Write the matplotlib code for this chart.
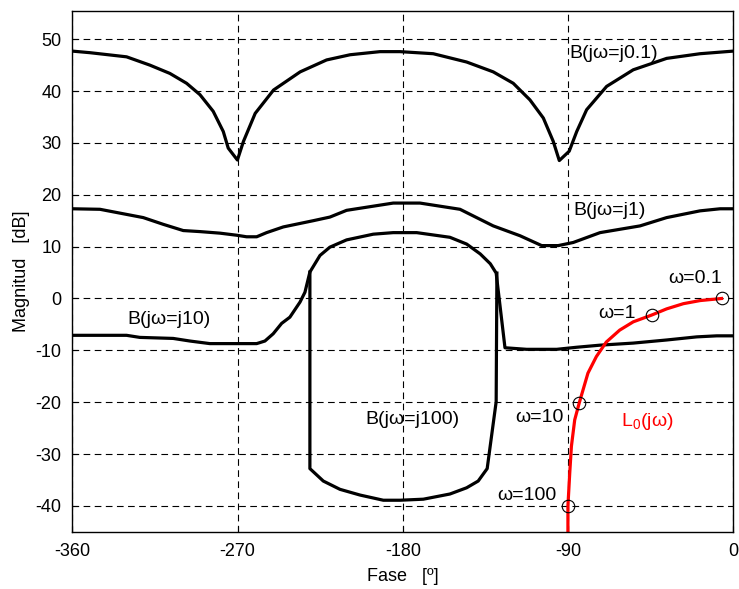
import matplotlib.pyplot as plt

plt.rcParams['font.family'] = ['Liberation Sans', 'DejaVu Sans']
plt.rcParams['mathtext.fontset'] = 'custom'
plt.rcParams['mathtext.rm'] = 'Liberation Sans'
plt.rcParams['axes.unicode_minus'] = False

# Bound at w = 0.1 rad/s (phase in deg, magnitude in dB)
b01_phase = [-360, -350.5, -330.5, -317.8, -306.9, -297.8, -290.5, -283.3, -277.8, -275.1,
             -270.1, -266.8, -260.4, -250.4, -235.9, -221.5, -208.7, -192.4, -181.5,
             -163.4, -145.2, -130.7, -119.8, -110.7, -103.4, -98.0, -94.7, -89.3, -85.2,
             -79.8, -68.9, -54.4, -36.2, -18.0, 0]
b01_mag = [47.7, 47.4, 46.6, 45.0, 43.4, 41.5, 39.3, 36.1, 32.2, 29.0,
           26.7, 30.3, 35.7, 40.2, 43.7, 46.0, 47.0, 47.6, 47.6,
           47.2, 45.6, 43.7, 41.5, 38.3, 34.8, 30.3, 26.6, 28.4, 32.2,
           36.4, 40.9, 44.1, 46.3, 47.2, 47.7]

# Bound at w = 1
b1_phase = [-360, -345, -321.4, -310.5, -299.6, -290.5, -279.6, -270.5, -265.1, -259.6,
            -254.2, -245.1, -228.8, -219.7, -210.6, -196.1, -185.2, -170.6, -148.8,
            -130.7, -116.1, -104.3, -95.3, -87.1, -72.5, -50.7, -36.2, -18.0, -7.1, 0]
b1_mag = [17.3, 17.2, 15.6, 14.3, 13.1, 12.9, 12.6, 12.2, 11.9, 11.9,
          12.7, 13.8, 15.0, 15.7, 17.0, 17.8, 18.4, 18.4, 17.2,
          14.0, 12.1, 10.2, 10.2, 10.8, 12.7, 14.0, 15.6, 16.9, 17.3, 17.3]

# Bound at w = 10
b10_phase = [-360, -330.5, -323.3, -305.1, -296.0, -285.1, -270.5, -259.6, -255.1, -250.6,
             -246.0, -241.5, -236.0, -233.3, -230.6, -225.1, -219.7, -210.6, -196.1,
             -185.2, -172.4, -154.3, -145.2, -137.8, -132.3, -129.1, -124.3, -112.5,
             -96.1, -85.2, -72.5, -54.4, -36.2, -19.8, -8.9, 0]
b10_mag = [-7.1, -7.1, -7.5, -7.7, -8.2, -8.7, -8.7, -8.7, -8.2, -6.8,
           -4.8, -3.6, -0.7, 1.2, 5.1, 8.3, 9.9, 11.3, 12.4,
           12.7, 12.7, 11.8, 10.5, 8.6, 6.7, 4.9, -9.5, -9.8,
           -9.8, -9.4, -9.0, -8.6, -8.0, -7.4, -7.2, -7.2]

# Bound at w = 100 (lower part of the closed contour)
b100_phase = [-230.6, -230.6, -223.3, -214.2, -203.3, -190.6, -181.5, -168.8, -154.3,
              -145.2, -138.9, -134.0, -129.1, -128.7]
b100_mag = [5.1, -32.8, -35.2, -36.8, -37.9, -38.9, -38.9, -38.7, -37.7,
            -36.5, -35.2, -32.8, -19.9, 4.9]

# Nominal open loop L0(jw)
l0_phase = [-6.3, -18.0, -27.1, -36.2, -44.4, -54.4, -61.8, -69.1, -74.5, -79.1,
            -83.8, -86.3, -88.1, -89.0, -90.0, -90.0]
l0_mag = [0.0, -0.4, -1.0, -2.0, -3.2, -4.5, -6.1, -8.4, -11.2, -14.4,
          -20.1, -23.4, -28.5, -33.6, -40.0, -46.0]

# Marked frequencies on L0
w_labels = ['\u03c9=0.1', '\u03c9=1', '\u03c9=10', '\u03c9=100']
w_phase = [-6.3, -44.4, -83.8, -90.0]
w_mag = [0.0, -3.2, -20.1, -40.0]

fig = plt.figure(figsize=(7.39, 5.89), dpi=100)
ax = fig.add_axes([0.098, 0.097, 0.894, 0.884])

lw = 2.3
ax.plot(b01_phase, b01_mag, color='black', lw=lw)
ax.plot(b1_phase, b1_mag, color='black', lw=lw)
ax.plot(b10_phase, b10_mag, color='black', lw=lw)
ax.plot(b100_phase, b100_mag, color='black', lw=lw)
ax.plot(l0_phase, l0_mag, color='red', lw=2.3)
ax.plot(w_phase, w_mag, 'o', mfc='none', mec='black', ms=9, mew=0.8)

fs = 14
ax.text(-89, 47.2, 'B(j\u03c9=j0.1)', fontsize=fs, va='center')
ax.text(-87, 16.9, 'B(j\u03c9=j1)', fontsize=fs, va='center')
ax.text(-330, -4.1, 'B(j\u03c9=j10)', fontsize=fs, va='center')
ax.text(-200.5, -23.3, 'B(j\u03c9=j100)', fontsize=fs, va='center')
ax.text(-35.5, 3.8, w_labels[0], fontsize=fs, va='center')
ax.text(-53, -2.8, w_labels[1], fontsize=fs, va='center', ha='right')
ax.text(-92.5, -23.0, w_labels[2], fontsize=fs, va='center', ha='right')
ax.text(-96, -37.9, w_labels[3], fontsize=fs, va='center', ha='right')
ax.text(-61, -23.7, 'L$_0$(j\u03c9)', fontsize=fs, va='center', color='red')

ax.set_xlim(-360, 0)
ax.set_ylim(-45, 55.4)
ax.set_xticks([-360, -270, -180, -90, 0])
ax.set_yticks(range(-40, 51, 10))
ax.tick_params(direction='in', length=4, labelsize=13, width=0.8, pad=8)
ax.grid(True, color='black', linestyle=(0, (6, 4)), lw=0.8)
ax.set_axisbelow(True)
for sp in ax.spines.values():
    sp.set_linewidth(1.0)

ax.set_xlabel('Fase   [\u00ba]', fontsize=13, labelpad=6)
ax.set_ylabel('Magnitud   [dB]', fontsize=13, labelpad=4)

fig.savefig('out.png', dpi=100)
